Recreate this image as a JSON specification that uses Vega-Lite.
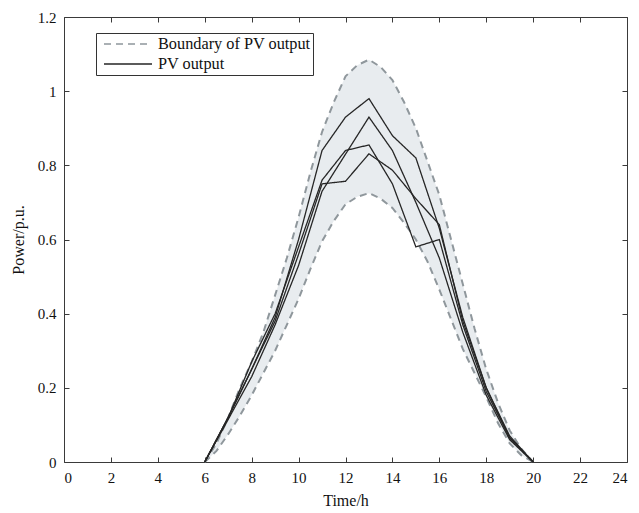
{
  "$schema": "https://vega.github.io/schema/vega-lite/v6.json",
  "width": 563,
  "height": 445,
  "autosize": "none",
  "padding": {"left": 64, "top": 17, "right": 12, "bottom": 51},
  "background": "white",
  "config": {
    "view": {"stroke": "#3a3a3a", "strokeWidth": 1},
    "font": "Liberation Serif",
    "axis": {
      "domain": false,
      "grid": false,
      "tickColor": "#3a3a3a",
      "tickSize": -5,
      "labelFont": "Liberation Serif",
      "labelFontSize": 15,
      "labelColor": "#111111",
      "titleFont": "Liberation Serif",
      "titleFontSize": 16,
      "titleFontWeight": "normal",
      "titleColor": "#111111"
    },
    "legend": {
      "labelFont": "Liberation Serif",
      "labelFontSize": 16.3,
      "labelColor": "#111111"
    }
  },
  "datasets": {
    "boundary": [
      {"hour": 6, "value": 0, "bound": "upper", "type": "Boundary of PV output"},
      {"hour": 6.5, "value": 0.05, "bound": "upper", "type": "Boundary of PV output"},
      {"hour": 7, "value": 0.12, "bound": "upper", "type": "Boundary of PV output"},
      {"hour": 7.5, "value": 0.2, "bound": "upper", "type": "Boundary of PV output"},
      {"hour": 8, "value": 0.27, "bound": "upper", "type": "Boundary of PV output"},
      {"hour": 8.5, "value": 0.35, "bound": "upper", "type": "Boundary of PV output"},
      {"hour": 9, "value": 0.45, "bound": "upper", "type": "Boundary of PV output"},
      {"hour": 9.5, "value": 0.55, "bound": "upper", "type": "Boundary of PV output"},
      {"hour": 10, "value": 0.66, "bound": "upper", "type": "Boundary of PV output"},
      {"hour": 10.5, "value": 0.78, "bound": "upper", "type": "Boundary of PV output"},
      {"hour": 11, "value": 0.89, "bound": "upper", "type": "Boundary of PV output"},
      {"hour": 11.5, "value": 0.97, "bound": "upper", "type": "Boundary of PV output"},
      {"hour": 12, "value": 1.04, "bound": "upper", "type": "Boundary of PV output"},
      {"hour": 12.5, "value": 1.07, "bound": "upper", "type": "Boundary of PV output"},
      {"hour": 13, "value": 1.085, "bound": "upper", "type": "Boundary of PV output"},
      {"hour": 13.5, "value": 1.065, "bound": "upper", "type": "Boundary of PV output"},
      {"hour": 14, "value": 1.03, "bound": "upper", "type": "Boundary of PV output"},
      {"hour": 14.5, "value": 0.97, "bound": "upper", "type": "Boundary of PV output"},
      {"hour": 15, "value": 0.9, "bound": "upper", "type": "Boundary of PV output"},
      {"hour": 15.5, "value": 0.81, "bound": "upper", "type": "Boundary of PV output"},
      {"hour": 16, "value": 0.72, "bound": "upper", "type": "Boundary of PV output"},
      {"hour": 16.5, "value": 0.6, "bound": "upper", "type": "Boundary of PV output"},
      {"hour": 17, "value": 0.48, "bound": "upper", "type": "Boundary of PV output"},
      {"hour": 17.5, "value": 0.36, "bound": "upper", "type": "Boundary of PV output"},
      {"hour": 18, "value": 0.25, "bound": "upper", "type": "Boundary of PV output"},
      {"hour": 18.5, "value": 0.16, "bound": "upper", "type": "Boundary of PV output"},
      {"hour": 19, "value": 0.085, "bound": "upper", "type": "Boundary of PV output"},
      {"hour": 19.5, "value": 0.035, "bound": "upper", "type": "Boundary of PV output"},
      {"hour": 20, "value": 0, "bound": "upper", "type": "Boundary of PV output"},
      {"hour": 6, "value": 0, "bound": "lower", "type": "Boundary of PV output"},
      {"hour": 6.5, "value": 0.03, "bound": "lower", "type": "Boundary of PV output"},
      {"hour": 7, "value": 0.075, "bound": "lower", "type": "Boundary of PV output"},
      {"hour": 7.5, "value": 0.125, "bound": "lower", "type": "Boundary of PV output"},
      {"hour": 8, "value": 0.18, "bound": "lower", "type": "Boundary of PV output"},
      {"hour": 8.5, "value": 0.24, "bound": "lower", "type": "Boundary of PV output"},
      {"hour": 9, "value": 0.3, "bound": "lower", "type": "Boundary of PV output"},
      {"hour": 9.5, "value": 0.37, "bound": "lower", "type": "Boundary of PV output"},
      {"hour": 10, "value": 0.44, "bound": "lower", "type": "Boundary of PV output"},
      {"hour": 10.5, "value": 0.52, "bound": "lower", "type": "Boundary of PV output"},
      {"hour": 11, "value": 0.595, "bound": "lower", "type": "Boundary of PV output"},
      {"hour": 11.5, "value": 0.65, "bound": "lower", "type": "Boundary of PV output"},
      {"hour": 12, "value": 0.695, "bound": "lower", "type": "Boundary of PV output"},
      {"hour": 12.5, "value": 0.715, "bound": "lower", "type": "Boundary of PV output"},
      {"hour": 13, "value": 0.725, "bound": "lower", "type": "Boundary of PV output"},
      {"hour": 13.5, "value": 0.71, "bound": "lower", "type": "Boundary of PV output"},
      {"hour": 14, "value": 0.685, "bound": "lower", "type": "Boundary of PV output"},
      {"hour": 14.5, "value": 0.645, "bound": "lower", "type": "Boundary of PV output"},
      {"hour": 15, "value": 0.6, "bound": "lower", "type": "Boundary of PV output"},
      {"hour": 15.5, "value": 0.54, "bound": "lower", "type": "Boundary of PV output"},
      {"hour": 16, "value": 0.465, "bound": "lower", "type": "Boundary of PV output"},
      {"hour": 16.5, "value": 0.385, "bound": "lower", "type": "Boundary of PV output"},
      {"hour": 17, "value": 0.305, "bound": "lower", "type": "Boundary of PV output"},
      {"hour": 17.5, "value": 0.24, "bound": "lower", "type": "Boundary of PV output"},
      {"hour": 18, "value": 0.175, "bound": "lower", "type": "Boundary of PV output"},
      {"hour": 18.5, "value": 0.105, "bound": "lower", "type": "Boundary of PV output"},
      {"hour": 19, "value": 0.05, "bound": "lower", "type": "Boundary of PV output"},
      {"hour": 19.5, "value": 0.018, "bound": "lower", "type": "Boundary of PV output"},
      {"hour": 20, "value": 0, "bound": "lower", "type": "Boundary of PV output"}
    ],
    "pv": [
      {"hour": 6, "value": 0, "curve": "A", "type": "PV output"},
      {"hour": 7, "value": 0.12, "curve": "A", "type": "PV output"},
      {"hour": 8, "value": 0.25, "curve": "A", "type": "PV output"},
      {"hour": 9, "value": 0.39, "curve": "A", "type": "PV output"},
      {"hour": 10, "value": 0.6, "curve": "A", "type": "PV output"},
      {"hour": 11, "value": 0.84, "curve": "A", "type": "PV output"},
      {"hour": 12, "value": 0.93, "curve": "A", "type": "PV output"},
      {"hour": 13, "value": 0.98, "curve": "A", "type": "PV output"},
      {"hour": 14, "value": 0.88, "curve": "A", "type": "PV output"},
      {"hour": 15, "value": 0.82, "curve": "A", "type": "PV output"},
      {"hour": 16, "value": 0.63, "curve": "A", "type": "PV output"},
      {"hour": 17, "value": 0.39, "curve": "A", "type": "PV output"},
      {"hour": 18, "value": 0.2, "curve": "A", "type": "PV output"},
      {"hour": 19, "value": 0.065, "curve": "A", "type": "PV output"},
      {"hour": 20, "value": 0, "curve": "A", "type": "PV output"},
      {"hour": 6, "value": 0, "curve": "B", "type": "PV output"},
      {"hour": 7, "value": 0.115, "curve": "B", "type": "PV output"},
      {"hour": 8, "value": 0.23, "curve": "B", "type": "PV output"},
      {"hour": 9, "value": 0.37, "curve": "B", "type": "PV output"},
      {"hour": 10, "value": 0.53, "curve": "B", "type": "PV output"},
      {"hour": 11, "value": 0.73, "curve": "B", "type": "PV output"},
      {"hour": 12, "value": 0.83, "curve": "B", "type": "PV output"},
      {"hour": 13, "value": 0.93, "curve": "B", "type": "PV output"},
      {"hour": 14, "value": 0.84, "curve": "B", "type": "PV output"},
      {"hour": 15, "value": 0.7, "curve": "B", "type": "PV output"},
      {"hour": 16, "value": 0.55, "curve": "B", "type": "PV output"},
      {"hour": 17, "value": 0.35, "curve": "B", "type": "PV output"},
      {"hour": 18, "value": 0.18, "curve": "B", "type": "PV output"},
      {"hour": 19, "value": 0.06, "curve": "B", "type": "PV output"},
      {"hour": 20, "value": 0, "curve": "B", "type": "PV output"},
      {"hour": 6, "value": 0, "curve": "C", "type": "PV output"},
      {"hour": 7, "value": 0.12, "curve": "C", "type": "PV output"},
      {"hour": 8, "value": 0.27, "curve": "C", "type": "PV output"},
      {"hour": 9, "value": 0.4, "curve": "C", "type": "PV output"},
      {"hour": 10, "value": 0.58, "curve": "C", "type": "PV output"},
      {"hour": 11, "value": 0.76, "curve": "C", "type": "PV output"},
      {"hour": 12, "value": 0.84, "curve": "C", "type": "PV output"},
      {"hour": 13, "value": 0.855, "curve": "C", "type": "PV output"},
      {"hour": 14, "value": 0.75, "curve": "C", "type": "PV output"},
      {"hour": 15, "value": 0.58, "curve": "C", "type": "PV output"},
      {"hour": 16, "value": 0.6, "curve": "C", "type": "PV output"},
      {"hour": 17, "value": 0.37, "curve": "C", "type": "PV output"},
      {"hour": 18, "value": 0.19, "curve": "C", "type": "PV output"},
      {"hour": 19, "value": 0.065, "curve": "C", "type": "PV output"},
      {"hour": 20, "value": 0, "curve": "C", "type": "PV output"},
      {"hour": 6, "value": 0, "curve": "D", "type": "PV output"},
      {"hour": 7, "value": 0.12, "curve": "D", "type": "PV output"},
      {"hour": 8, "value": 0.25, "curve": "D", "type": "PV output"},
      {"hour": 9, "value": 0.38, "curve": "D", "type": "PV output"},
      {"hour": 10, "value": 0.56, "curve": "D", "type": "PV output"},
      {"hour": 11, "value": 0.75, "curve": "D", "type": "PV output"},
      {"hour": 12, "value": 0.757, "curve": "D", "type": "PV output"},
      {"hour": 13, "value": 0.831, "curve": "D", "type": "PV output"},
      {"hour": 14, "value": 0.787, "curve": "D", "type": "PV output"},
      {"hour": 15, "value": 0.71, "curve": "D", "type": "PV output"},
      {"hour": 16, "value": 0.64, "curve": "D", "type": "PV output"},
      {"hour": 17, "value": 0.38, "curve": "D", "type": "PV output"},
      {"hour": 18, "value": 0.2, "curve": "D", "type": "PV output"},
      {"hour": 19, "value": 0.07, "curve": "D", "type": "PV output"},
      {"hour": 20, "value": 0, "curve": "D", "type": "PV output"}
    ]
  },
  "resolve": {"axis": {"x": "independent", "y": "independent"}},
  "layer": [
    {
      "data": {"name": "boundary"},
      "transform": [{"pivot": "bound", "value": "value", "groupby": ["hour"]}],
      "mark": {"type": "area", "color": "#e8ecef", "opacity": 1},
      "encoding": {
        "x": {"field": "hour", "type": "quantitative",
              "scale": {"domain": [0, 24], "nice": false, "zero": false},
              "axis": {"orient": "bottom", "values": [0,2,4,6,8,10,12,14,16,18,20,22,24], "title": "Time/h", "labelPadding": 13, "titlePadding": 7, "format": "~g"}},
        "y": {"field": "lower", "type": "quantitative",
              "scale": {"domain": [0, 1.2], "nice": false},
              "axis": {"orient": "left", "values": [0,0.2,0.4,0.6,0.8,1,1.2], "title": "Power/p.u.", "labelPadding": 13, "titlePadding": 11, "format": "~g"}},
        "y2": {"field": "upper"}
      }
    },
    {
      "data": {"name": "boundary"},
      "mark": {"type": "line", "strokeWidth": 2},
      "encoding": {
        "x": {"field": "hour", "type": "quantitative", "axis": null},
        "y": {"field": "value", "type": "quantitative", "axis": null},
        "detail": {"field": "bound"},
        "color": {"field": "type", "type": "nominal",
                  "scale": {"domain": ["Boundary of PV output", "PV output"], "range": ["#8f979c", "#262626"]},
                  "legend": {"title": null, "orient": "none", "legendX": 32, "legendY": 16,
                             "symbolType": "stroke", "symbolSize": 2304, "symbolStrokeWidth": 1.5,
                             "symbolOffset": 5, "clipHeight": 18,
                             "strokeColor": "#333333", "fillColor": "white", "padding": 2,
                             "labelOffset": 5, "rowPadding": 2, "labelLimit": 300}},
        "strokeDash": {"field": "type", "type": "nominal",
                       "scale": {"domain": ["Boundary of PV output", "PV output"], "range": [[7, 5], [1, 0]]},
                       "legend": {"title": null}}
      }
    },
    {
      "data": {"name": "pv"},
      "mark": {"type": "line", "strokeWidth": 1.3},
      "encoding": {
        "x": {"field": "hour", "type": "quantitative",
              "axis": {"orient": "top", "values": [0,2,4,6,8,10,12,14,16,18,20,22,24], "labels": false, "title": null}},
        "y": {"field": "value", "type": "quantitative",
              "axis": {"orient": "right", "values": [0,0.2,0.4,0.6,0.8,1,1.2], "labels": false, "title": null}},
        "detail": {"field": "curve"},
        "color": {"field": "type", "type": "nominal"},
        "strokeDash": {"field": "type", "type": "nominal"}
      }
    }
  ]
}
